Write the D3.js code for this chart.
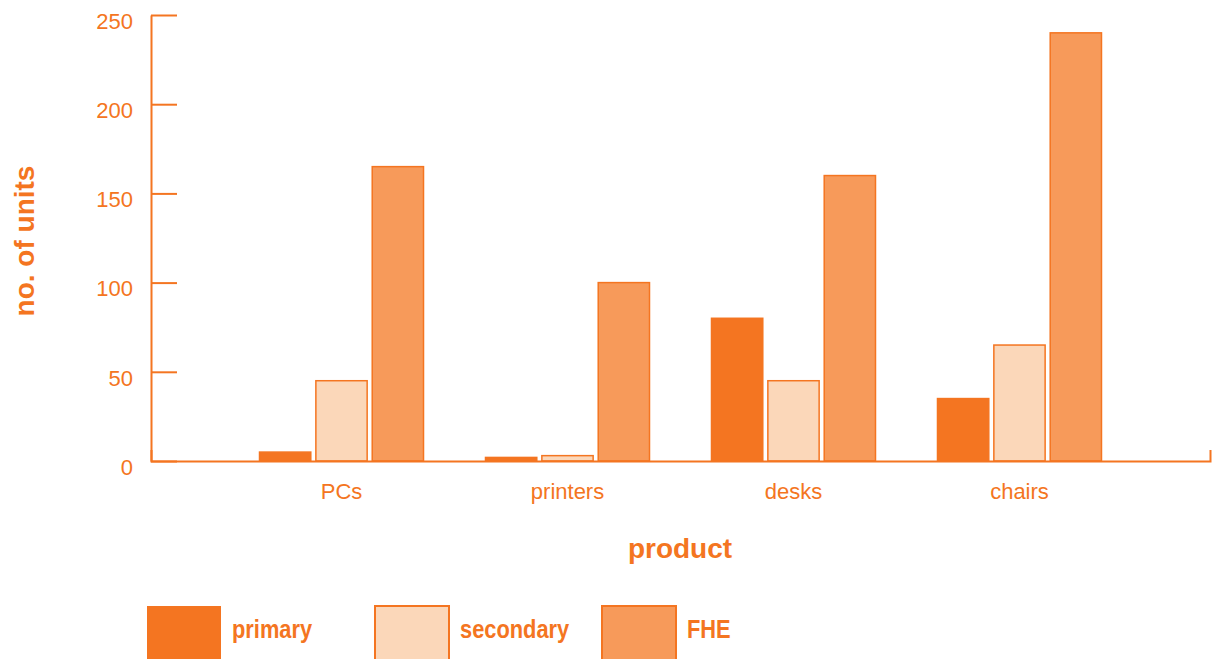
<!DOCTYPE html>
<html><head><meta charset="utf-8">
<script src="https://cdn.jsdelivr.net/npm/d3@7"></script>
<style>
html,body{margin:0;padding:0;background:#fff;}
svg{display:block;}
</style></head>
<body>
<svg id="chart" width="1212" height="659"></svg>
<script>
const categories = ["PCs", "printers", "desks", "chairs"];
const seriesNames = ["primary", "secondary", "FHE"];
const primary = [5, 2, 80, 35];
const secondary = [45, 3, 45, 65];
const fhe = [165, 100, 160, 240];
const yTicks = [0, 50, 100, 150, 200, 250];
const xTitle = "product";
const yTitle = "no. of units";

(function () {
const seriesValues = [primary, secondary, fhe];
const fills = ["#F47521", "#FBD7B9", "#F79A5A"];
const orange = "#F47521";
const font = "Liberation Sans, Arial, Helvetica, sans-serif";

const svg = d3.select("#chart");
const mLeft = 151, mRight = 1210, mTop = 15, mBottom = 461;

const x0 = d3.scaleBand().domain(categories).range([mLeft, mRight]).paddingInner(0).paddingOuter(0.343);
const x1 = d3.scaleBand().domain(seriesNames).range([-82, 82]).paddingInner(0.09).paddingOuter(0);
const y = d3.scaleLinear().domain([0, 250]).range([mBottom, mTop]);

// bars
const groups = svg.append("g").selectAll("g").data(categories).join("g")
  .attr("transform", d => `translate(${x0(d) + x0.bandwidth() / 2},0)`);
groups.selectAll("rect")
  .data((c, i) => seriesNames.map((s, j) => ({ s, j, v: seriesValues[j][i] })))
  .join("rect")
  .attr("x", d => x1(d.s))
  .attr("width", x1.bandwidth())
  .attr("y", d => y(d.v))
  .attr("height", d => y(0) - y(d.v))
  .attr("fill", d => fills[d.j])
  .attr("stroke", orange)
  .attr("stroke-width", 1.5);

// y axis
const yAxis = d3.axisLeft(y).tickValues(yTicks).tickSizeInner(-26).tickSizeOuter(0).tickPadding(18);
const gy = svg.append("g").attr("transform", `translate(${mLeft},0)`).call(yAxis);
gy.select(".domain").attr("stroke", orange).attr("stroke-width", 2);
gy.selectAll(".tick line").attr("stroke", orange).attr("stroke-width", 2);
gy.selectAll(".tick text").attr("fill", orange).attr("font-family", font).attr("font-size", 22).attr("dy", "0.6em");

// x axis
const xAxis = d3.axisBottom(x0).tickSizeInner(0).tickSizeOuter(-11).tickPadding(22);
const gx = svg.append("g").attr("transform", `translate(0,${mBottom})`).call(xAxis);
gx.select(".domain").attr("stroke", orange).attr("stroke-width", 2);
gx.selectAll(".tick text").attr("fill", orange).attr("font-family", font).attr("font-size", 22);

// titles
svg.append("text").attr("x", 680).attr("y", 558).attr("text-anchor", "middle")
  .attr("fill", orange).attr("font-family", font).attr("font-weight", "bold").attr("font-size", 28)
  .text(xTitle);
svg.append("text").attr("transform", "translate(34,241) rotate(-90)").attr("text-anchor", "middle")
  .attr("fill", orange).attr("font-family", font).attr("font-weight", "bold").attr("font-size", 28)
  .text(yTitle);

// legend
const legX = [147, 375, 602];
const lg = svg.append("g").selectAll("g").data(seriesNames).join("g")
  .attr("transform", (d, i) => `translate(${legX[i]},606)`);
lg.append("rect").attr("width", 74).attr("height", 60)
  .attr("fill", (d, i) => fills[i])
  .attr("stroke", (d, i) => i === 0 ? "none" : orange).attr("stroke-width", 2);
lg.append("text").attr("transform", "translate(85,32) scale(0.84,1)")
  .attr("fill", orange).attr("font-family", font)
  .attr("font-weight", "bold").attr("font-size", 26)
  .text(d => d);
})();
</script>
</body></html>
